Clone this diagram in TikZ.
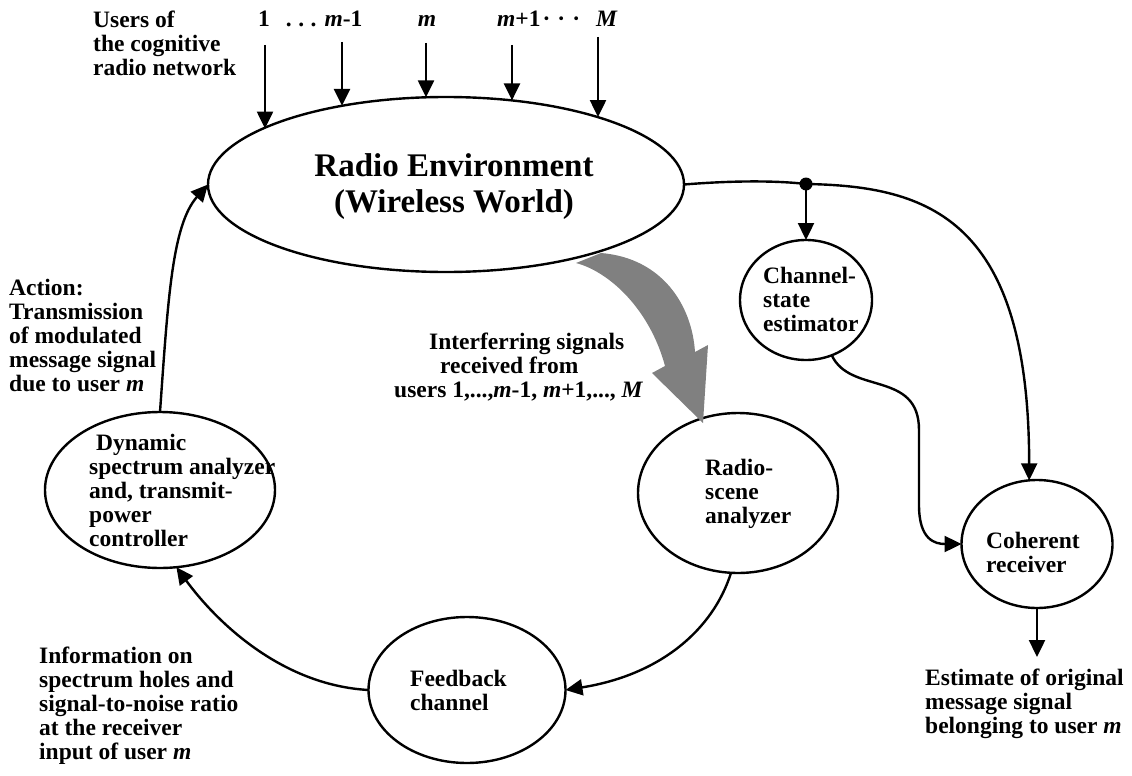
\documentclass[tikz,border=0pt]{standalone}
\usepackage{fontspec}
\setmainfont{Liberation Serif}
\usetikzlibrary{arrows.meta,shapes.geometric}
\definecolor{arrowgray}{HTML}{808080}
\tikzset{
  bub/.style={draw, ellipse, line width=2.4pt, inner sep=0pt, outer sep=0pt},
  txt/.style={font=\fontsize{23.5}{24}\selectfont\bfseries, inner sep=0pt, align=left, anchor=north west},
  con/.style={line width=2.4pt, -{Triangle[length=17pt,width=16pt]}},
  plain/.style={line width=2.4pt},
}
\begin{document}
\begin{tikzpicture}[x=1pt,y=-1pt]
\useasboundingbox (0,0) rectangle (1132,776);

% ellipses
\node[bub, minimum width=476, minimum height=175] (env) at (446,184.5) {};
\node[bub, minimum width=230, minimum height=156] (dyn) at (160,490) {};
\node[bub, minimum width=200, minimum height=160] (rs) at (738,493) {};
\node[bub, minimum width=197, minimum height=146] (fb) at (467,690) {};
\node[bub, minimum width=132, minimum height=120] (cse) at (806,300) {};
\node[bub, minimum width=151, minimum height=128] (coh) at (1037,544) {};

% texts
\node[font=\fontsize{33}{36}\selectfont\bfseries, align=center, inner sep=0pt] (envtxt) at ([xshift=8pt,yshift=-2pt]env.center) {Radio Environment\\(Wireless World)};
\node[txt] (users) at (93,11) {Users of\\the cognitive\\radio network};
\node[txt, anchor=base west] (n1) at (258,27) {1\hspace{16pt}.\hspace{6.5pt}.\hspace{6.5pt}.\hspace{8pt}\textit{m}-1};
\node[txt, anchor=base] (nm) at (427,27) {\textit{m}};
\node[txt, anchor=base west] (n2) at (497,27) {\textit{m}+1\hspace{2pt}·\hspace{7pt}·\hspace{7pt}·\hspace{16pt}\textit{M}};
\node[txt] (act) at (9,279) {Action:\\Transmission\\of modulated\\message signal\\due to user \textit{m}};
\node[txt] (dyntxt) at (89,434) {\hspace*{7pt}Dynamic\\spectrum analyzer\\and, transmit-\\power\\controller};
\node[txt] (info) at (39,647) {Information on\\spectrum holes and\\signal-to-noise ratio\\at the receiver\\input of user \textit{m}};
\node[txt] (fbtxt) at (410,670) {Feedback\\channel};
\node[txt] (intf) at (394,333) {\hspace*{35pt}Interferring signals\\\hspace*{46pt}received from\\users 1,...,\textit{m}-1, \textit{m}+1,..., \textit{M}};
\node[txt] (rstxt) at (705,459) {Radio-\\scene\\analyzer};
\node[txt] (csetxt) at (763,267) {Channel-\\state\\estimator};
\node[txt] (cohtxt) at (986,532) {Coherent\\receiver};
\node[txt] (esttxt) at (925,669) {Estimate of original\\message signal\\belonging to user \textit{m}};

% user arrows
\coordinate (u1) at (265,45);
\coordinate (u2) at (342,42);
\coordinate (u3) at (426,43);
\coordinate (u4) at (512,45);
\coordinate (u5) at (598,37);
\draw[con] (u1) -- (u1 |- env.163);
\draw[con] (u2) -- (u2 |- env.143);
\draw[con] (u3) -- (u3 |- env.103);
\draw[con] (u4) -- (u4 |- env.52);
\draw[con] (u5) -- (u5 |- env.24);

% gray interference arrow
\fill[arrowgray] (576,263) .. controls (610,272) and (650,310) .. (665,366)
  -- (652,373) -- (703,423) -- (708,345) -- (695,352)
  .. controls (692,305) and (662,258) .. (601,253) -- cycle;

% right branch
\node[circle, fill, inner sep=0pt, minimum size=13] (dot) at (806,184) {};
\draw[plain] (env.east) .. controls (740,180) and (780,181) .. (dot.center);
\draw[con] (dot.center) -- (cse.north);
\draw[con] (dot.center) .. controls (930,186) and (1029,220) .. (coh.97);
\draw[con] (cse.-65) .. controls (850,395) and (919,370) .. (919,430) -- (919,505)
  .. controls (919,540) and (935,544) .. (coh.west);
\coordinate (est) at (1037,657);
\draw[con] (coh.south) -- (est);

% loop
\draw[con] (rs.265) .. controls (713,630) and (660,675) .. (fb.east);
\draw[con] (fb.west) .. controls (280,685) and (215,620) .. (dyn.-78);
\draw[con] (dyn.north) .. controls (168,300) and (172,225) .. (env.west);
\end{tikzpicture}
\end{document}
